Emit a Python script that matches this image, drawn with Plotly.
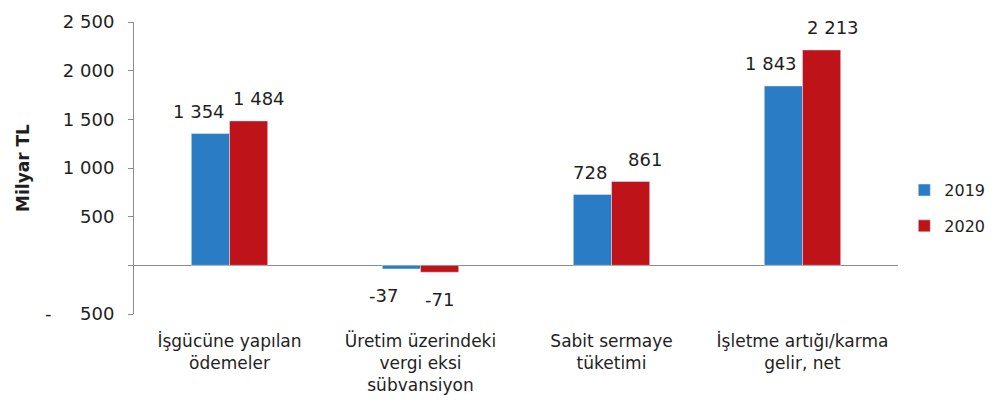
import plotly.graph_objects as go

categories = ["İşgücüne yapılan<br>ödemeler", "Üretim üzerindeki<br>vergi eksi<br>sübvansiyon",
              "Sabit sermaye<br>tüketimi", "İşletme artığı/karma<br>gelir, net"]
v2019 = [1354, -37, 728, 1843]
v2020 = [1484, -71, 861, 2213]
tick_vals = [-500, 0, 500, 1000, 1500, 2000, 2500]
tick_text = ["-     500", "", "500", "1 000", "1 500", "2 000", "2 500"]

def fmt(v):
    s = f"{abs(v):,}".replace(",", " ")
    return ("-" if v < 0 else "") + s

FONT = "DejaVu Sans, Liberation Sans, Arial, sans-serif"
TXT = "#1e1e1e"
BARGAP = 0.6
series = [("2019", v2019, "#2a7dc4"), ("2020", v2020, "#be1419")]
# horizontal dodge (px) of the value labels, as in the original, to avoid collisions
label_dx = {"2019": [-11, -18, -2, -12], "2020": [10, 0, 14, 11]}

fig = go.Figure()
annotations = []
half = (1 - BARGAP) / 2
for k, (name, vals, col) in enumerate(series):
    fig.add_trace(go.Bar(name=name, x=categories, y=vals, marker_color=col,
                         legendgroup=name, cliponaxis=False))
    off = -half / 2 if k == 0 else half / 2
    for i, v in enumerate(vals):
        annotations.append(dict(
            x=i + off, y=v, xref="x", yref="y", text=fmt(v), showarrow=False,
            xanchor="center", yanchor="middle",
            xshift=label_dx[name][i], yshift=22 if v >= 0 else -27,
            font=dict(size=18, color=TXT)))

fig.update_layout(
    width=986, height=394, barmode="group", bargap=BARGAP, bargroupgap=0,
    plot_bgcolor="white", paper_bgcolor="white",
    margin=dict(l=126, r=96, t=14, b=88, autoexpand=False),
    font=dict(family=FONT, size=17, color=TXT),
    legend=dict(xref="container", yref="container", x=0.909, y=0.492,
                yanchor="middle", xanchor="left",
                font=dict(size=16), tracegroupgap=12, itemwidth=30),
    showlegend=True,
    annotations=annotations,
)
fig.update_yaxes(range=[-500, 2500], tickvals=tick_vals, ticktext=tick_text,
                 automargin=False,
                 showgrid=False, showline=True, linecolor="#8c8c8c", linewidth=1,
                 ticks="outside", ticklen=5, tickcolor="#8c8c8c",
                 ticklabelstandoff=10,
                 zeroline=True, zerolinecolor="#8c8c8c", zerolinewidth=1,
                 title=dict(text="<b>Milyar TL</b>", font=dict(size=17), standoff=10),
                 tickfont=dict(size=18))
fig.update_xaxes(showgrid=False, showline=False, ticks="", automargin=False,
                 ticklabelstandoff=15, tickfont=dict(size=17))
fig.write_html("out.html")
